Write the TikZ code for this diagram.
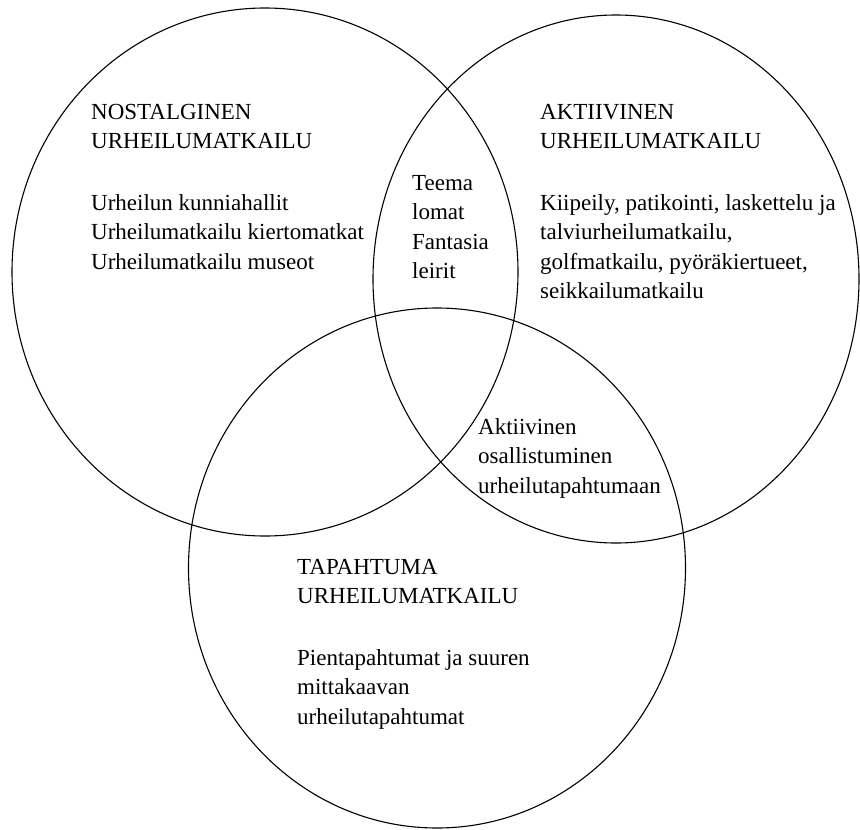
\documentclass[tikz,border=0pt]{standalone}
\usepackage{fontspec}
\setmainfont{Liberation Serif}
\usetikzlibrary{shapes}
\tikzstyle{venn} = [draw, ellipse, inner sep=0pt, line width=1.1pt]
\tikzstyle{txt} = [anchor=north west, align=left, inner sep=0pt, font=\fontsize{23}{29.5}\selectfont]

\begin{document}
\begin{tikzpicture}[x=1pt, y=-1pt]
\useasboundingbox (0,0) rectangle (860,830);

% the three sets
\node [venn, minimum width=506pt, minimum height=528pt] (nost) at (265,272) {};
\node [venn, minimum width=486pt, minimum height=528pt] (akt) at (616,279) {};
\node [venn, minimum width=497pt, minimum height=520pt] (tap) at (437,568) {};

% labels
\node [txt] (nost_txt) at (91,104) {NOSTALGINEN\\URHEILUMATKAILU\\[32pt]Urheilun kunniahallit\\Urheilumatkailu kiertomatkat\\Urheilumatkailu museot};
\node [txt] (akt_txt) at (540,104) {AKTIIVINEN\\URHEILUMATKAILU\\[32pt]Kiipeily, patikointi, laskettelu ja\\talviurheilumatkailu,\\golfmatkailu, pyöräkiertueet,\\seikkailumatkailu};
\node [txt] (tap_txt) at (297,559) {TAPAHTUMA\\URHEILUMATKAILU\\[32pt]Pientapahtumat ja suuren\\mittakaavan\\urheilutapahtumat};

\node [txt] (teema) at (412,175) {Teema\\lomat\\Fantasia\\leirit};
\node [txt] (osall) at (478,418) {Aktiivinen\\osallistuminen\\urheilutapahtumaan};

\end{tikzpicture}
\end{document}
